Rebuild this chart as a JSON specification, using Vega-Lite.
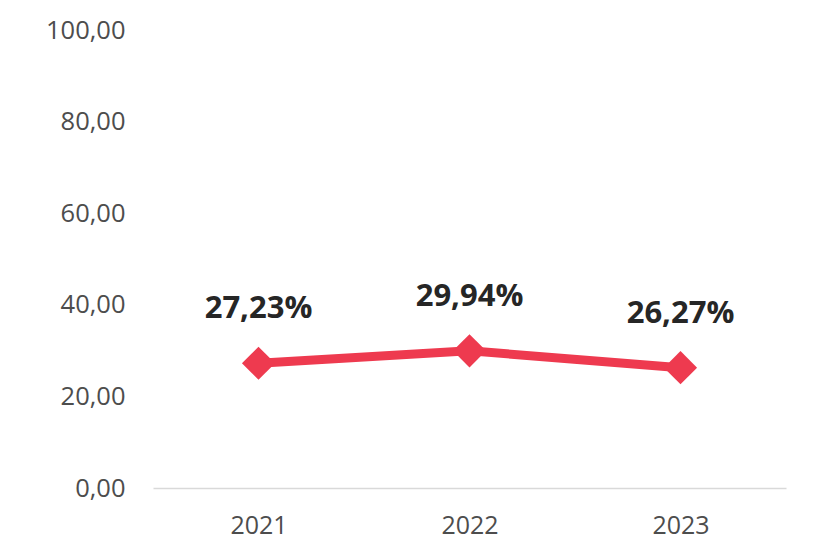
{
  "$schema": "https://vega.github.io/schema/vega-lite/v6.json",
  "width": 633,
  "height": 458,
  "autosize": {"type": "none"},
  "padding": {"left": 153, "top": 30, "right": 44, "bottom": 67},
  "background": "white",
  "config": {"view": {"stroke": null}},
  "data": {
    "values": [
      {"year": "2021", "value": 27.23, "label": "27,23%"},
      {"year": "2022", "value": 29.94, "label": "29,94%"},
      {"year": "2023", "value": 26.27, "label": "26,27%"}
    ]
  },
  "encoding": {
    "x": {
      "field": "year", "type": "ordinal",
      "scale": {"type": "point", "padding": 0.5},
      "axis": {
        "title": null, "labelAngle": 0, "ticks": false,
        "domainColor": "#d9d9d9", "domainWidth": 1.5,
        "labelFont": "Open Sans", "labelFontSize": 25, "labelColor": "#4d4d4d",
        "labelPadding": 25
      }
    },
    "y": {
      "field": "value", "type": "quantitative",
      "scale": {"domain": [0, 100]},
      "axis": {
        "title": null, "values": [0, 20, 40, 60, 80, 100],
        "domain": false, "ticks": false, "grid": false,
        "labelExpr": "replace(format(datum.value, '.2f'), '.', ',')",
        "labelFont": "Open Sans", "labelFontSize": 25.5, "labelColor": "#4d4d4d",
        "labelPadding": 28
      }
    }
  },
  "layer": [
    {"mark": {"type": "line", "color": "#ee3a4f", "strokeWidth": 9}},
    {"mark": {"type": "point", "shape": "diamond", "filled": true, "color": "#ee3a4f", "size": 1100, "opacity": 1}},
    {
      "mark": {"type": "text", "dy": -54, "font": "Open Sans", "fontWeight": "bold", "fontSize": 31, "color": "#262626"},
      "encoding": {"text": {"field": "label"}}
    }
  ]
}
